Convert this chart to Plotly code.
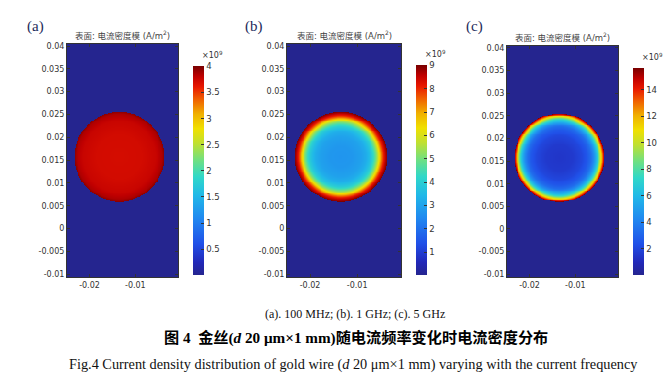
import numpy as np
import plotly.graph_objects as go

# ---------------- data ----------------
panel_labels = ["(a)", "(b)", "(c)"]
panel_title = "表面: 电流密度模 (A/m<sup>2</sup>)"

# wire cross-section geometry in plot units
wire_center_x = -0.0135
wire_center_y = 0.0157
wire_radius = 0.0098

# radial profiles of |J| (units of 1e9 A/m^2) vs normalised radius r/R
rad_a = [0.0, 0.5, 0.8, 0.95, 1.0]
J_a = [3.70, 3.71, 3.76, 3.85, 3.95]

rad_b = [0.0, 0.25, 0.45, 0.55, 0.62, 0.68, 0.72, 0.76, 0.80, 0.84, 0.88, 0.92, 0.96, 1.0]
J_b = [2.70, 2.75, 2.95, 3.20, 3.55, 3.95, 4.40, 4.95, 5.60, 6.50, 7.40, 8.10, 8.60, 9.00]

rad_c = [0.0, 0.3, 0.5, 0.62, 0.70, 0.76, 0.81, 0.85, 0.88, 0.91, 0.94, 0.965, 0.985, 1.0]
J_c = [1.40, 1.55, 2.00, 2.60, 3.30, 4.30, 5.60, 7.00, 8.40, 10.0, 11.7, 13.3, 14.6, 15.6]

cbar_max = [4.0, 9.0, 15.6]
cbar_ticks = [
    [0.5, 1, 1.5, 2, 2.5, 3, 3.5, 4],
    [1, 2, 3, 4, 5, 6, 7, 8, 9],
    [2, 4, 6, 8, 10, 12, 14],
]
cbar_ticktext = [
    ["0.5", "1", "1.5", "2", "2.5", "3", "3.5", "4"],
    ["1", "2", "3", "4", "5", "6", "7", "8", "9"],
    ["2", "4", "6", "8", "10", "12", "14"],
]

y_tickvals = [-0.01, -0.005, 0, 0.005, 0.01, 0.015, 0.02, 0.025, 0.03, 0.035, 0.04]
y_ticktext = ["-0.01", "-0.005", "0", "0.005", "0.01", "0.015", "0.02", "0.025", "0.03", "0.035", "0.04"]
x_tickvals = [-0.02, -0.01]
x_ticktext = ["-0.02", "-0.01"]

x_range = [-0.0249, -0.0007]
y_range = [-0.01065, 0.04054]

caption1 = "(a). 100 MHz; (b). 1 GHz; (c). 5 GHz"
caption2 = "<b>图 4  金丝(<i>d</i> 20 μm×1 mm)随电流频率变化时电流密度分布</b>"
caption3 = "Fig.4 Current density distribution of gold wire (<i>d</i> 20 μm×1 mm) varying with the current frequency"

# ---------------- layout (pixels) ----------------
W, H = 671, 390
plots_px = [(67, 178, 42, 278), (287, 401, 42, 278), (507, 618, 44, 278)]
cbars_px = [(193, 65, 274), (416, 64, 274), (633, 67, 274)]
label_px = [(35, 25), (254, 25), (474, 25)]

colorscale = [
    [0.0, "#25258f"],
    [0.06, "#2228b8"],
    [0.15, "#2050e8"],
    [0.27, "#2088f0"],
    [0.38, "#20b8e8"],
    [0.47, "#30d8c8"],
    [0.55, "#70e080"],
    [0.63, "#c0e030"],
    [0.70, "#f0e000"],
    [0.77, "#f0b000"],
    [0.84, "#f06000"],
    [0.90, "#e81800"],
    [0.95, "#c00000"],
    [1.0, "#780000"],
]

gx = np.arange(x_range[0] - 0.0002, x_range[1] + 0.0003, 0.0002)
gy = np.arange(y_range[0] - 0.0002, y_range[1] + 0.0003, 0.0002)
XX, YY = np.meshgrid(gx, gy)
RR = np.sqrt((XX - wire_center_x) ** 2 + (YY - wire_center_y) ** 2) / wire_radius

profiles = [(rad_a, J_a), (rad_b, J_b), (rad_c, J_c)]

fig = go.Figure()
tick_font = dict(family="DejaVu Sans, Noto Sans CJK SC", size=8, color="#333333")

for i, (rads, Js) in enumerate(profiles):
    Z = np.where(RR <= 1.0, np.interp(RR, rads, Js), 0.0)
    x0, x1, y0, y1 = plots_px[i]
    cx, cy0, cy1 = cbars_px[i]
    sfx = "" if i == 0 else str(i + 1)
    fig.add_trace(go.Heatmap(
        x=gx, y=gy, z=Z,
        xaxis="x" + sfx, yaxis="y" + sfx,
        colorscale=colorscale, zmin=0, zmax=cbar_max[i],
        hoverinfo="skip",
        colorbar=dict(
            x=cx / W, xanchor="left", xpad=0,
            y=1 - cy0 / H, yanchor="top", ypad=0,
            len=cy1 - cy0, lenmode="pixels",
            thickness=11, thicknessmode="pixels",
            outlinewidth=0,
            tickvals=cbar_ticks[i], ticktext=cbar_ticktext[i],
            ticks="inside", ticklen=3, tickcolor="#333333",
            tickfont=dict(family="DejaVu Sans", size=8.5, color="#333333"),
        ),
    ))
    fig.layout["xaxis" + sfx] = dict(
        domain=[x0 / W, x1 / W], range=x_range, anchor="y" + sfx,
        tickvals=x_tickvals, ticktext=x_ticktext,
        ticks="inside", ticklen=3, tickcolor="#333333",
        showline=True, linecolor="#333333", linewidth=1, mirror="ticks",
        showgrid=False, zeroline=False, tickfont=tick_font,
    )
    fig.layout["yaxis" + sfx] = dict(
        domain=[1 - y1 / H, 1 - y0 / H], range=y_range, anchor="x" + sfx,
        tickvals=y_tickvals, ticktext=y_ticktext,
        ticks="inside", ticklen=3, tickcolor="#333333",
        showline=True, linecolor="#333333", linewidth=1, mirror="ticks",
        showgrid=False, zeroline=False, tickfont=tick_font,
    )
    # panel title
    fig.add_annotation(
        x=(x0 + x1) / 2 / W, y=1 - (y0 - 9) / H, xref="paper", yref="paper",
        text=panel_title, showarrow=False, xanchor="center", yanchor="middle",
        font=dict(family="DejaVu Sans, Noto Sans CJK SC", size=8.5, color="#444444"),
    )
    # exponent label
    fig.add_annotation(
        x=(cx + 32) / W, y=1 - (cy0 - 11) / H, xref="paper", yref="paper",
        text="×10<sup>9</sup>", showarrow=False, xanchor="right", yanchor="middle",
        font=dict(family="DejaVu Sans", size=8, color="#333333"),
    )
    # panel letter
    lx, ly = label_px[i]
    fig.add_annotation(
        x=lx / W, y=1 - ly / H, xref="paper", yref="paper",
        text=panel_labels[i], showarrow=False, xanchor="center", yanchor="middle",
        font=dict(family="Liberation Serif", size=15, color="#1c2a5a"),
    )

fig.add_annotation(x=355 / W, y=1 - 315 / H, xref="paper", yref="paper", text=caption1,
                   showarrow=False, xanchor="center", yanchor="middle",
                   font=dict(family="Liberation Serif", size=12, color="#111111"))
fig.add_annotation(x=356 / W, y=1 - 339 / H, xref="paper", yref="paper", text=caption2,
                   showarrow=False, xanchor="center", yanchor="middle",
                   font=dict(family="Liberation Serif, Noto Sans CJK SC", size=15.2, color="#000000"))
fig.add_annotation(x=353 / W, y=1 - 366 / H, xref="paper", yref="paper", text=caption3,
                   showarrow=False, xanchor="center", yanchor="middle",
                   font=dict(family="Liberation Serif", size=14.3, color="#111111"))

fig.update_layout(
    width=W, height=H,
    margin=dict(l=0, r=0, t=0, b=0),
    paper_bgcolor="white", plot_bgcolor="white",
    showlegend=False,
)

fig.write_html("out.html", config={"displayModeBar": False},
               post_script="document.body.style.margin='0px';")
